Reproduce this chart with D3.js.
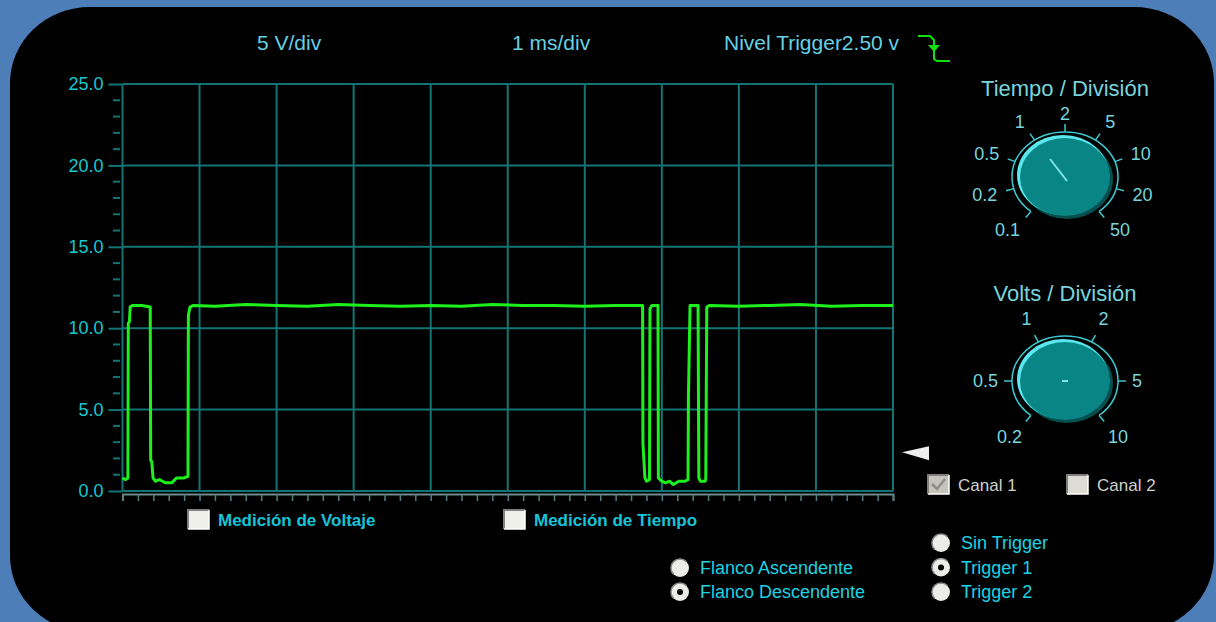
<!DOCTYPE html>
<html>
<head>
<meta charset="utf-8">
<script src="https://cdn.jsdelivr.net/npm/d3@7"></script>
<style>
body { margin: 0; background: #4d7eb7; overflow: hidden; }
text { font-family: "Liberation Sans", Arial, sans-serif; }
</style>
</head>
<body>
<svg id="osc" width="1216" height="622"></svg>
<script>
// values
var voltTicks = [0, 5, 10, 15, 20, 25];
var voltMinor = [1, 2, 3, 4, 6, 7, 8, 9, 11, 12, 13, 14, 16, 17, 18, 19, 21, 22, 23, 24];
var timeDivs = [0, 1, 2, 3, 4, 5, 6, 7, 8, 9, 10];
var timeMinor = [0, 0.2, 0.4, 0.6, 0.8, 1, 1.2, 1.4, 1.6, 1.8, 2, 2.2, 2.4, 2.6, 2.8, 3, 3.2, 3.4, 3.6, 3.8,
                 4, 4.2, 4.4, 4.6, 4.8, 5, 5.2, 5.4, 5.6, 5.8, 6, 6.2, 6.4, 6.6, 6.8, 7, 7.2, 7.4, 7.6, 7.8,
                 8, 8.2, 8.4, 8.6, 8.8, 9, 9.2, 9.4, 9.6, 9.8, 10];
var headerLabels = ["5 V/div", "1 ms/div", "Nivel Trigger2.50 v"];
var triggerLevel = 2.5;

var signalTime  = [0.00, 0.04, 0.07, 0.075, 0.09, 0.10, 0.13, 0.25, 0.36, 0.366, 0.38, 0.396, 0.43, 0.48, 0.52,
                   0.56, 0.64, 0.70, 0.80, 0.85, 0.855, 0.876, 0.92, 1.20, 1.60, 2.00, 2.40, 2.80, 3.20, 3.60,
                   4.00, 4.40, 4.80, 5.20, 5.60, 6.00, 6.40, 6.75, 6.755, 6.78, 6.80, 6.84, 6.846, 6.872, 6.95,
                   6.955, 6.998, 7.05, 7.10, 7.15, 7.22, 7.30, 7.34, 7.345, 7.366, 7.47, 7.48, 7.50, 7.56, 7.57,
                   7.583, 7.62, 8.00, 8.40, 8.80, 9.20, 9.60, 10.00];
var signalVolts = [0.8, 0.7, 0.8, 10.3, 10.4, 11.3, 11.4, 11.4, 11.3, 1.9, 1.8, 0.8, 0.6, 0.7, 0.6,
                   0.5, 0.5, 0.8, 0.8, 0.9, 10.8, 11.3, 11.4, 11.35, 11.45, 11.4, 11.35, 11.45, 11.4, 11.35,
                   11.4, 11.35, 11.45, 11.4, 11.4, 11.35, 11.4, 11.4, 2.9, 0.8, 0.6, 0.7, 11.2, 11.4, 11.4,
                   0.8, 0.6, 0.5, 0.6, 0.4, 0.6, 0.6, 0.7, 5.8, 11.4, 11.4, 0.8, 0.6, 0.6, 0.7,
                   11.3, 11.4, 11.35, 11.4, 11.45, 11.35, 11.4, 11.4];

var tiempoLabels = ["0.1", "0.2", "0.5", "1", "2", "5", "10", "20", "50"];
var voltsLabels = ["0.2", "0.5", "1", "2", "5", "10"];
var measureLabels = ["Medición de Voltaje", "Medición de Tiempo"];
var channelLabels = ["Canal 1", "Canal 2"];
var edgeLabels = ["Flanco Ascendente", "Flanco Descendente"];
var triggerLabels = ["Sin Trigger", "Trigger 1", "Trigger 2"];

var svg = d3.select("#osc");

// black rounded screen
svg.append("rect")
    .attr("x", 10).attr("y", 7)
    .attr("width", 1204).attr("height", 625)
    .attr("rx", 80).attr("ry", 76)
    .attr("fill", "#000");

var x = d3.scaleLinear().domain([0, 10]).range([122.5, 893]);
var y = d3.scaleLinear().domain([0, 25]).range([491, 84]);

// grid
svg.append("g").selectAll("line")
    .data(voltTicks).enter().append("line")
    .attr("x1", x(0)).attr("x2", x(10))
    .attr("y1", function(d) { return y(d); })
    .attr("y2", function(d) { return y(d); })
    .attr("stroke", "#127474").attr("stroke-width", 2);

svg.append("g").selectAll("line")
    .data(timeDivs).enter().append("line")
    .attr("x1", function(d) { return x(d); })
    .attr("x2", function(d) { return x(d); })
    .attr("y1", y(25)).attr("y2", y(0))
    .attr("stroke", "#127474").attr("stroke-width", 2);

// y axis
var yAxis = svg.append("g")
    .attr("transform", "translate(" + x(0) + ",0)")
    .call(d3.axisLeft(y).tickValues(voltTicks).tickSize(14).tickPadding(5)
        .tickFormat(d3.format(".1f")));
yAxis.select(".domain").remove();
yAxis.selectAll("line").attr("stroke", "#127474").attr("stroke-width", 2);
yAxis.selectAll("text")
    .attr("fill", "#16c9cf")
    .style("font-size", "18px");

svg.append("g").selectAll("line")
    .data(voltMinor).enter().append("line")
    .attr("x1", 113).attr("x2", 120)
    .attr("y1", function(d) { return y(d); })
    .attr("y2", function(d) { return y(d); })
    .attr("stroke", "#127474").attr("stroke-width", 2);

// x axis, ticks only
var xAxis = svg.append("g")
    .attr("transform", "translate(0,494)")
    .call(d3.axisBottom(x).tickValues(timeMinor).tickSize(7).tickFormat(""));
xAxis.select(".domain").attr("stroke", "#6f8a8a").attr("stroke-width", 2);
xAxis.selectAll("line").attr("stroke", "#4f8080").attr("stroke-width", 1.5);

// waveform
var signal = signalTime.map(function(t, i) { return [t, signalVolts[i]]; });
svg.append("path")
    .datum(signal)
    .attr("d", d3.line().x(function(d) { return x(d[0]); }).y(function(d) { return y(d[1]); }))
    .attr("fill", "none")
    .attr("stroke", "#1ef01e")
    .attr("stroke-width", 3)
    .attr("stroke-linejoin", "round");

// trigger level marker
var ty = y(triggerLevel) + 2;
svg.append("path")
    .attr("d", "M902," + ty + "L929," + (ty - 6) + "L929," + (ty + 8) + "Z")
    .attr("fill", "#eeeeee");

// header
var headerX = [257, 512, 724];
svg.selectAll(".hdr")
    .data(headerLabels).enter().append("text")
    .attr("class", "hdr")
    .attr("x", function(d, i) { return headerX[i]; })
    .attr("y", 50)
    .attr("fill", "#66d0e2")
    .style("font-size", "21px")
    .text(function(d) { return d; });

// falling-edge symbol
svg.append("path")
    .attr("d", "M918,36H930L934,40V59L937,61H950")
    .attr("fill", "none").attr("stroke", "#10e010").attr("stroke-width", 2);
svg.append("path")
    .attr("d", "M928,45H940L934,52Z")
    .attr("fill", "#10e010");

// knobs
function knob(cx, cy, title, titleY, labels, angles, pointer, lrx, lry, topShift) {
    var g = svg.append("g").attr("transform", "translate(" + cx + "," + cy + ")");
    var arx = 53, ary = 45;
    function pt(a, rx, ry) {
        var r = a * Math.PI / 180;
        return [rx * Math.sin(r), -ry * Math.cos(r)];
    }
    var s = pt(angles[0], arx, ary), e = pt(angles[angles.length - 1], arx, ary);
    g.append("path")
        .attr("d", "M" + s + "A" + arx + "," + ary + " 0 1 1 " + e)
        .attr("fill", "none").attr("stroke", "#3cc8d0").attr("stroke-width", 1.5);

    g.selectAll(".tk").data(angles).enter().append("line")
        .attr("x1", function(a) { return pt(a, arx, ary)[0]; })
        .attr("y1", function(a) { return pt(a, arx, ary)[1]; })
        .attr("x2", function(a) { return pt(a, arx + 8, ary + 8)[0]; })
        .attr("y2", function(a) { return pt(a, arx + 8, ary + 8)[1]; })
        .attr("stroke", "#3cc8d0").attr("stroke-width", 1.5);

    g.selectAll(".lb").data(labels).enter().append("text")
        .attr("x", function(d, i) { return pt(angles[i], lrx, lry)[0]; })
        .attr("y", function(d, i) { return pt(angles[i], lrx, lry)[1] + (angles[i] === 0 ? topShift : 0); })
        .attr("dy", "0.36em")
        .attr("text-anchor", function(d, i) {
            var sn = Math.sin(angles[i] * Math.PI / 180);
            return sn < -0.3 ? "end" : (sn > 0.3 ? "start" : "middle");
        })
        .attr("fill", "#78d4dc")
        .style("font-size", "18px")
        .text(function(d) { return d; });

    // body
    g.append("ellipse").attr("cx", 2).attr("cy", 2).attr("rx", 46).attr("ry", 40).attr("fill", "#064f4f");
    g.append("ellipse").attr("cx", -2).attr("cy", -2).attr("rx", 46).attr("ry", 40).attr("fill", "#5ae8ee");
    g.append("ellipse").attr("cx", 0).attr("cy", 0).attr("rx", 45).attr("ry", 39).attr("fill", "#098585");

    g.append("line")
        .attr("x1", pointer[0]).attr("y1", pointer[1])
        .attr("x2", pointer[2]).attr("y2", pointer[3])
        .attr("stroke", "#7fe4ea").attr("stroke-width", 2);

    svg.append("text")
        .attr("x", cx).attr("y", titleY)
        .attr("text-anchor", "middle")
        .attr("fill", "#78d4dc")
        .style("font-size", "22px")
        .text(title);
}

knob(1065, 177, "Tiempo / División", 96, tiempoLabels,
     [-140, -105, -70, -35, 0, 35, 70, 105, 140], [2, 4, -15, -18], 70, 68, 5);
knob(1065, 381, "Volts / División", 301, voltsLabels,
     [-140, -90, -30, 30, 90, 140], [-3, 0, 3, 0], 67, 72, 0);

// checkboxes
function checkbox(bx, by, fill) {
    svg.append("rect").attr("x", bx).attr("y", by).attr("width", 21).attr("height", 19).attr("fill", fill);
    svg.append("path").attr("d", "M" + bx + "," + (by + 19) + "V" + by + "H" + (bx + 21))
        .attr("fill", "none").attr("stroke", "#808080").attr("stroke-width", 2);
    svg.append("path").attr("d", "M" + (bx + 21) + "," + by + "V" + (by + 19) + "H" + bx)
        .attr("fill", "none").attr("stroke", "#ffffff").attr("stroke-width", 1.5);
}

var measureX = [188, 504];
measureLabels.forEach(function(d, i) {
    checkbox(measureX[i], 510, "#f0f0ea");
    svg.append("text")
        .attr("x", measureX[i] + 30).attr("y", 526)
        .attr("fill", "#16c4d8")
        .style("font-size", "17px").style("font-weight", "bold")
        .text(d);
});

var channelX = [928, 1067];
channelLabels.forEach(function(d, i) {
    checkbox(channelX[i], 475, i === 0 ? "#c4c4bc" : "#dcdcd4");
    svg.append("text")
        .attr("x", channelX[i] + 30).attr("y", 491)
        .attr("fill", "#d0d0cc")
        .style("font-size", "17px")
        .text(d);
});
svg.append("path")
    .attr("d", "M932,484L937,489L945,479")
    .attr("fill", "none").attr("stroke", "#8c8c88").attr("stroke-width", 2.5);

// radio buttons
function radio(rx, ry, label, on) {
    svg.append("circle").attr("cx", rx).attr("cy", ry).attr("r", 9).attr("fill", "#ecece8");
    svg.append("path")
        .attr("d", "M" + (rx - 6.4) + "," + (ry + 6.4) + "A9,9 0 0 1 " + (rx + 6.4) + "," + (ry - 6.4))
        .attr("fill", "none").attr("stroke", "#8a8a8a").attr("stroke-width", 1.5);
    if (on) svg.append("circle").attr("cx", rx).attr("cy", ry).attr("r", 3).attr("fill", "#000");
    svg.append("text")
        .attr("x", rx + 20).attr("y", ry)
        .attr("dy", "0.35em")
        .attr("fill", "#1ad4e4")
        .style("font-size", "18px")
        .text(label);
}

edgeLabels.forEach(function(d, i) { radio(680, 568 + i * 24, d, i === 1); });
triggerLabels.forEach(function(d, i) { radio(941, 543 + i * 24.5, d, i === 1); });
</script>
</body>
</html>
